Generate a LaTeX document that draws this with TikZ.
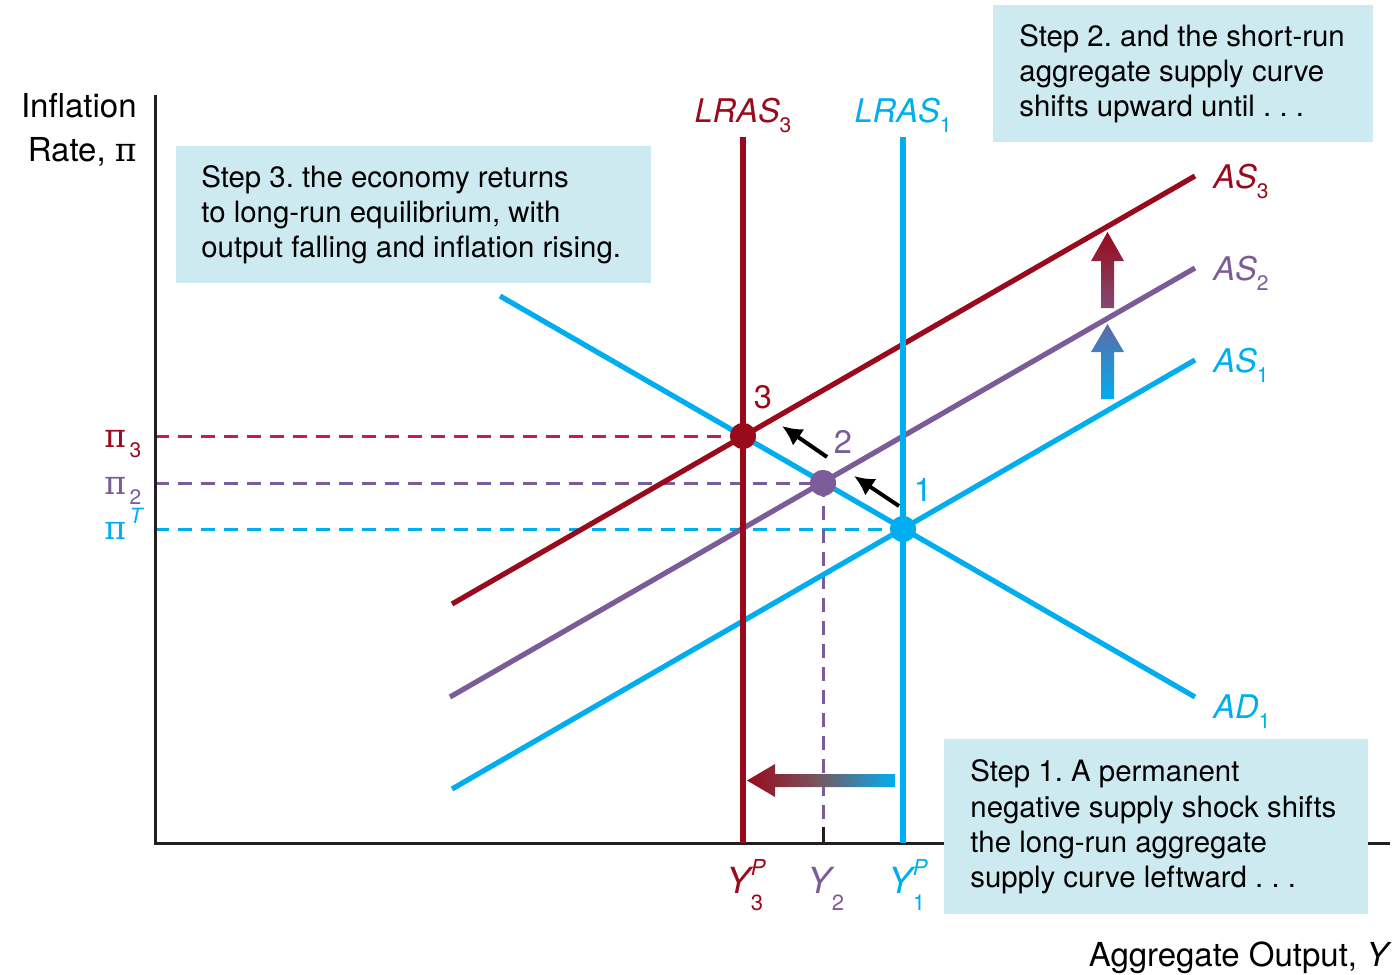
\documentclass[tikz,border=0pt]{standalone}
\usepackage{fontspec}
\setmainfont{TeX Gyre Heros}
\newfontfamily\pifont{DejaVu Serif}
\usetikzlibrary{arrows.meta,calc}
\definecolor{lras_red}{RGB}{152,10,28}
\definecolor{ad_cyan}{RGB}{0,174,239}
\definecolor{as_purple}{RGB}{123,92,153}
\definecolor{pi_red}{RGB}{200,28,78}
\definecolor{step_fill}{RGB}{205,234,241}
\definecolor{axis_gray}{RGB}{35,31,32}
\newcommand{\lowidx}[1]{\raisebox{-0.6ex}{\fontsize{10.5}{10.5}\selectfont\upshape #1}}
\newcommand{\ysupsub}[2]{\makebox[0pt][l]{\raisebox{0.95ex}{\fontsize{11}{11}\selectfont\itshape #1}}\raisebox{-0.95ex}{\fontsize{11}{11}\selectfont\upshape #2}}
\newcommand{\piup}{{\pifont π}}
\frenchspacing
\tikzset{
  axis/.style={draw=axis_gray, line width=1.5pt},
  curve/.style={line width=2.6pt},
  guide/.style={line width=1.5pt, dash pattern=on 7pt off 4.5pt},
  eqpoint/.style={circle, minimum size=13pt, inner sep=0pt},
  stepbox/.style={fill=step_fill, anchor=north west, inner sep=0pt},
  steptext/.style={
    align=left, anchor=west, inner sep=0pt,
    font=\fontsize{14.7}{17.6}\selectfont
  },
  curvelabel/.style={font=\fontsize{16.3}{19}\selectfont\itshape, inner sep=0pt},
  pointlabel/.style={font=\fontsize{16.3}{19}\selectfont},
  axislabel/.style={font=\fontsize{16.5}{20}\selectfont, anchor=base east, inner sep=0pt},
  pilabel/.style={font=\fontsize{16.5}{19}\selectfont, anchor=base west, inner sep=0pt},
  ylabel/.style={font=\fontsize{18}{20}\selectfont\itshape, anchor=base, inner sep=0pt},
  shiftarrow/.style={-{Latex[length=10pt,width=10pt]}, line width=2pt, black}
}

\begin{document}
\begin{tikzpicture}[x=0.5pt, y=-0.5pt]
\useasboundingbox (0,0) rectangle (1396,974);

% axes
\coordinate (origin) at (155,843);
\coordinate (ytop) at (155,95);
\coordinate (xend) at (1390,843);

% curve end points
\coordinate (ad_start) at (500,296);
\coordinate (ad_end) at (1195,697);
\coordinate (as1_start) at (452,789);
\coordinate (as1_end) at (1195,360);
\coordinate (as2_start) at (450,697);
\coordinate (as2_end) at (1195,268);
\coordinate (as3_start) at (452,604);
\coordinate (as3_end) at (1195,176);
\coordinate (lras1_top) at (903,137);
\coordinate (lras3_top) at (743,137);

% equilibrium points
\node[eqpoint, fill=lras_red] (eq3) at (743,436) {};
\node[eqpoint, fill=as_purple] (eq2) at (823,483) {};
\node[eqpoint, fill=ad_cyan] (eq1) at (903,529) {};

\coordinate (pi3_axis) at (155,436);
\coordinate (pi2_axis) at (155,483);
\coordinate (piT_axis) at (155,529);
\coordinate (y2_axis) at (823,843);
\coordinate (y2_tick) at (823,827);
\coordinate (lras1_foot) at (903,843);
\coordinate (lras3_foot) at (743,843);

% dashed guides
\draw[guide, pi_red] (pi3_axis) -- (eq3.center);
\draw[guide, as_purple] (pi2_axis) -- (eq2.center);
\draw[guide, ad_cyan] (piT_axis) -- (eq1.center);
\draw[guide, as_purple] (eq2.center) -- (y2_tick);
\draw[axis_gray, line width=1.5pt] (y2_tick) -- (y2_axis);

\draw[axis] (ytop) -- (origin) -- (xend);

% curves
\draw[curve, ad_cyan] (as1_start) -- (as1_end);
\draw[curve, as_purple] (as2_start) -- (as2_end);
\draw[curve, lras_red] (as3_start) -- (as3_end);
\draw[curve, ad_cyan] (ad_start) -- (ad_end);
\draw[curve, ad_cyan] (lras1_top) -- (lras1_foot);
\draw[curve, lras_red] (lras3_top) -- (lras3_foot);

\node[eqpoint, fill=lras_red] at (eq3) {};
\node[eqpoint, fill=as_purple] at (eq2) {};
\node[eqpoint, fill=ad_cyan] at (eq1) {};

% curve labels
\node[curvelabel, lras_red, anchor=base] (lras3_lbl) at (743,122) {LRAS\lowidx{3}};
\node[curvelabel, ad_cyan, anchor=base] (lras1_lbl) at (903,122) {LRAS\lowidx{1}};
\node[curvelabel, lras_red, anchor=base west] (as3_lbl) at (1213,188) {AS\lowidx{3}};
\node[curvelabel, as_purple, anchor=base west] (as2_lbl) at (1213,280) {AS\lowidx{2}};
\node[curvelabel, ad_cyan, anchor=base west] (as1_lbl) at (1213,372) {AS\lowidx{1}};
\node[curvelabel, ad_cyan, anchor=base west] (ad1_lbl) at (1213,718) {AD\lowidx{1}};

\node[pointlabel, lras_red] (num3) at (763,397) {3};
\node[pointlabel, as_purple] (num2) at (843,442) {2};
\node[pointlabel, ad_cyan] (num1) at (923,490) {1};

% axis labels
\node[axislabel] (ylab1) at (137,118) {Inflation};
\node[axislabel] (ylab2) at (137,161) {Rate, \piup};
\node[axislabel] (xlab) at (1392,966) {Aggregate Output, \textit{Y}};

\node[pilabel, lras_red] (pi3_lbl) at (104,447) {\piup\lowidx{\,3}};
\node[pilabel, as_purple] (pi2_lbl) at (104,494) {\piup\lowidx{\,2}};
\node[pilabel, ad_cyan] (piT_lbl) at (104,539) {\piup\raisebox{0.9ex}{\fontsize{10.5}{10.5}\selectfont\itshape\,T}};

\node[ylabel, lras_red] (y3_lbl) at (745,893) {Y\ysupsub{P}{3}};
\node[ylabel, as_purple] (y2_lbl) at (826,893) {Y\ysupsub{}{2}};
\node[ylabel, ad_cyan] (y1_lbl) at (907,893) {Y\ysupsub{P}{1}};

% movement along AD
\coordinate (mv1_tail) at (899,506);
\coordinate (mv1_tip) at (854,476);
\coordinate (mv2_tail) at (827,457);
\coordinate (mv2_tip) at (782,426);
\draw[shiftarrow] (mv1_tail) -- (mv1_tip);
\draw[shiftarrow] (mv2_tail) -- (mv2_tip);

% shift arrows
\shade[left color=lras_red, right color=ad_cyan, middle color={rgb,255:red,115;green,90;blue,100}]
  (895,774) -- (775,774) -- (775,764) -- (747,780.5) -- (775,797) -- (775,787) -- (895,787) -- cycle;
\shade[bottom color=ad_cyan, top color={rgb,255:red,95;green,105;blue,165}]
  (1101,399) -- (1101,352) -- (1091,352) -- (1107.5,324) -- (1124,352) -- (1114,352) -- (1114,399) -- cycle;
\shade[bottom color={rgb,255:red,130;green,75;blue,115}, top color=lras_red]
  (1101,308) -- (1101,261) -- (1091,261) -- (1107.5,232) -- (1124,261) -- (1114,261) -- (1114,308) -- cycle;

% step boxes
\node[stepbox, minimum width=237.5pt, minimum height=68.5pt] (step3) at (176,146) {};
\node[steptext] (step3_text) at ($(step3.west)+(12.5pt,0pt)$)
  {Step 3. the economy returns\\to long-run equilibrium, with\\output falling and inflation rising.};
\node[stepbox, minimum width=190pt, minimum height=68.5pt] (step2) at (993,5) {};
\node[steptext] (step2_text) at ($(step2.west)+(13pt,0pt)$)
  {Step 2. and the short-run\\aggregate supply curve\\shifts upward until . . .};
\node[stepbox, minimum width=212pt, minimum height=87.5pt] (step1) at (944,739) {};
\node[steptext] (step1_text) at ($(step1.west)+(13pt,0pt)$)
  {Step 1. A permanent\\negative supply shock shifts\\the long-run aggregate\\supply curve leftward . . .};

\end{tikzpicture}
\end{document}
